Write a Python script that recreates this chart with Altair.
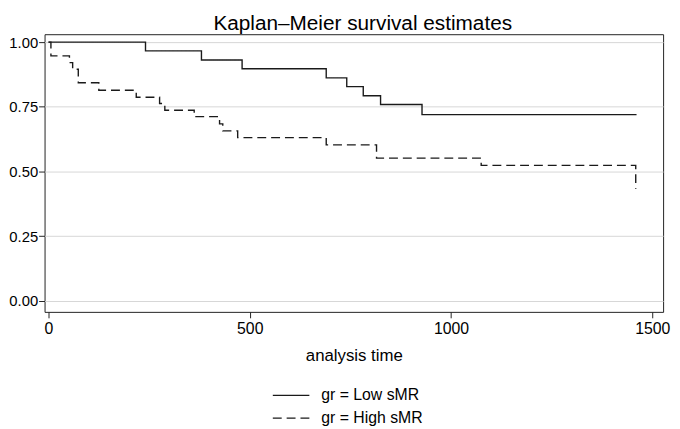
import altair as alt
import pandas as pd

# Kaplan-Meier step data
low_t = [0, 241, 380, 481, 690, 741, 782, 825, 928, 1461]
low_s = [1.0, 0.966, 0.931, 0.897, 0.862, 0.828, 0.793, 0.759, 0.72, 0.72]

high_t = [0, 6, 52, 60, 74, 125, 218, 276, 289, 362, 425, 433, 470, 690, 815, 1075, 1459]
high_s = [1.0, 0.947, 0.921, 0.895, 0.843, 0.814, 0.787, 0.763, 0.737, 0.712, 0.684,
          0.657, 0.631, 0.603, 0.552, 0.524, 0.434]

groups = ["gr = Low sMR", "gr = High sMR"]
x_ticks = [0, 500, 1000, 1500]
y_ticks = [0.0, 0.25, 0.5, 0.75, 1.0]

rows = []
for t, s in zip(low_t, low_s):
    rows.append({"t": t, "s": s, "g": groups[0]})
for t, s in zip(high_t, high_s):
    rows.append({"t": t, "s": s, "g": groups[1]})
df = pd.DataFrame(rows)

FONT = "Liberation Sans"

chart = alt.Chart(df).mark_line(interpolate="step-after", strokeWidth=1.4, color="#1a1a1a").encode(
    x=alt.X("t:Q", scale=alt.Scale(domain=[-9.8, 1527], nice=False, zero=False),
            axis=alt.Axis(values=x_ticks, title="analysis time", grid=False, format="d",
                          labelFontSize=16)),
    y=alt.Y("s:Q", scale=alt.Scale(domain=[-0.042, 1.0305], nice=False, zero=False),
            axis=alt.Axis(values=y_ticks, title=None, grid=True, format=".2f",
                          labelFontSize=15)),
    strokeDash=alt.StrokeDash("g:N", scale=alt.Scale(domain=groups, range=[[1, 0], [9, 5]]),
                              legend=alt.Legend(title=None, orient="none", legendX=235, legendY=351,
                                                direction="vertical", symbolType="M-1.37,0H1.37",
                                                symbolSize=729, symbolStrokeWidth=1.4,
                                                symbolStrokeColor="#1a1a1a",
                                                labelFont=FONT, labelFontSize=16, labelColor="black",
                                                labelOffset=16, rowPadding=0, padding=0)),
    detail="g:N",
).properties(
    width=626, height=281,
    title=alt.TitleParams("Kaplan–Meier survival estimates", font=FONT, fontSize=21,
                          fontWeight="normal", color="black", anchor="middle", dx=9, offset=0),
    autosize=alt.AutoSizeParams(type="none"),
    padding={"left": 37, "top": 24, "right": 9, "bottom": 116},
).configure_view(
    stroke="#222222", strokeWidth=1
).configure_axis(
    domain=False, tickColor="#222222", tickSize=6, tickWidth=1,
    labelFont=FONT, labelColor="black",
    titleFont=FONT, titleFontSize=17, titleFontWeight="normal", titleColor="black",
    gridColor="#d6d6d6", gridWidth=1,
).configure_axisX(labelPadding=3, titlePadding=11).configure_axisY(labelPadding=1)

chart.save("out.html", embed_options={"renderer": "svg", "actions": False})
